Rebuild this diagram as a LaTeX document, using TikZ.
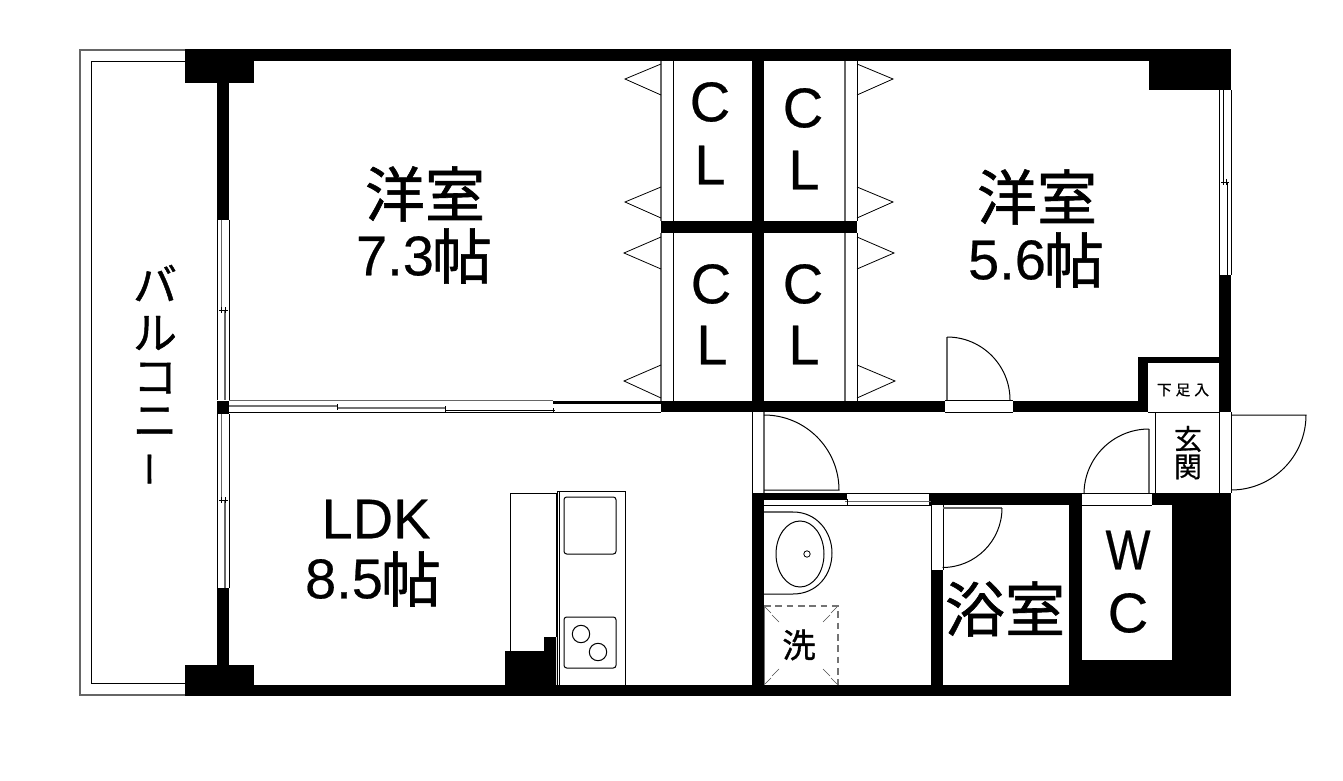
\documentclass[tikz,border=0pt]{standalone}
\usepackage{fontspec}
\setmainfont{Liberation Sans}[FakeBold=0.4]
\newfontfamily\jp{Noto Sans CJK JP}[FakeBold=1]
\newfontfamily\jpb{Noto Sans CJK JP}[FakeBold=0.6]
\newcommand{\fs}[1]{\fontsize{#1}{#1}\selectfont}
\tikzset{
  x=0.75pt,y=-0.75pt,
  wall/.style={fill=black,draw=none},
  thin line/.style={draw=black,line width=0.75pt},
  grey line/.style={draw=black!60,line width=0.9pt},
  fine/.style={draw=black,line width=0.6pt},
  big/.style={inner sep=0pt,font=\fs{42}},
  bigjp/.style={inner sep=0pt,font=\jp\fs{45}},
  kana/.style={inner sep=0pt,font=\jp\fs{33}},
}
\begin{document}
\begin{tikzpicture}
\useasboundingbox (0,0) rectangle (1343,781);
% balcony
\draw[grey line] (185,50) -- (80,50) -- (80,695) -- (185,695);
\draw[thin line] (185,61.5) -- (91.5,61.5) -- (91.5,683) -- (185,683);
% walls
\fill[wall] (185,49) rectangle (1231,61);
\fill[wall] (185,49) rectangle (254,83.5);
\fill[wall] (217,83) rectangle (229,220);
\fill[wall] (217,400.5) rectangle (229,414);
\fill[wall] (217,588) rectangle (229,670);
\fill[wall] (185,665) rectangle (254,696);
\fill[wall] (185,685) rectangle (1231,696);
\fill[wall] (1149,49) rectangle (1231,90);
\fill[wall] (1219,275) rectangle (1231,412);
\fill[wall] (752,49) rectangle (764,412);
\fill[wall] (661,221) rectangle (857,233);
\fill[wall] (661,400.5) rectangle (945,412);
\fill[wall] (1013,400.5) rectangle (1148,412);
\fill[wall] (1138,357) rectangle (1148,412);
\fill[wall] (1138,357) rectangle (1231,363);
\fill[wall] (752,493) rectangle (764,696);
\fill[wall] (752,493) rectangle (847,499.5);
\fill[wall] (929,493) rectangle (1082,505);
\fill[wall] (1152,493) rectangle (1231,505);
\fill[wall] (931,570) rectangle (943,696);
\fill[wall] (1069,493) rectangle (1082,696);
\fill[wall] (1172,505) rectangle (1231,696);
\fill[wall] (1069,660) rectangle (1231,696);
\fill[wall] (505,651) -- (544,651) -- (544,637) -- (556,637) -- (556,685) -- (505,685) -- cycle;
% left windows
\draw[thin line] (217,220) -- (217,400) (229,220) -- (229,400) (217,414) -- (217,588) (229,414) -- (229,588);
\draw[grey line] (221.5,220) -- (221.5,310) (225,310) -- (225,400);
\draw[fine] (219,310) -- (228,310) (221.5,307) -- (221.5,313) (225,307) -- (225,313);
\draw[grey line] (221.5,414) -- (221.5,500) (225,500) -- (225,588);
\draw[fine] (219,500) -- (228,500) (221.5,497) -- (221.5,503) (225,497) -- (225,503);
% sliding door LDK
\draw[grey line] (229,400.7) -- (553,400.7);
\draw[thin line] (229,412.5) -- (661,412.5);
\fill[wall] (553,401) rectangle (661,404);
\draw[draw=black!55,line width=1.5pt] (229,405.5) -- (337,405.5);
\draw[draw=black!55,line width=1.2pt] (337,408) -- (445,408);
\draw[fine] (445,410) -- (555,410);
\draw[fine] (337,404) -- (337,410) (445,406) -- (445,412) (553,408) -- (553,412);
% closet lines
\foreach \ya/\yb in {61/221,233/400.5}{
  \draw[grey line] (661,\ya) -- (661,\yb) (845,\ya) -- (845,\yb);
  \draw[thin line] (673,\ya) -- (673,\yb) (857,\ya) -- (857,\yb);
}
% folding door triangles
\foreach \ya/\yb/\yc/\xa/\xb in {64/79/95/625/893,187/202/218/625/893,237/253/269/624/894,365/381/398/624/895}{
  \draw[fine] (661,\ya) -- (\xa,\yb) -- (661,\yc);
  \draw[fine] (857,\ya) -- (\xb,\yb) -- (857,\yc);
}
% bedroom 5.6 door
\draw[thin line] (945,400.5) -- (1013,400.5) (945,412) -- (1013,412);
\draw[grey line] (947,337) -- (947,400);
\draw[thin line] (947,337) arc[start angle=-90,end angle=0,radius=63];
% right window
\draw[thin line] (1219,90) -- (1219,275) (1231,90) -- (1231,275);
\draw[thin line] (1223,90) -- (1223,182) (1227,182) -- (1227,275);
\draw[fine] (1221,182) -- (1229,182) (1223,179) -- (1223,185) (1226.5,179) -- (1226.5,185);
% entrance
\draw[thin line] (1148,412) -- (1219,412);
\draw[thin line] (1155.5,412) -- (1155.5,493);
\draw[thin line] (1219,412) -- (1219,493) (1231,412) -- (1231,493);
\draw[thin line] (1231,415) -- (1306,415) arc[start angle=0,end angle=90,radius=75];
\draw[thin line] (1082,493) -- (1152,493) (1082,505) -- (1152,505);
\draw[grey line] (1149,429) -- (1149,493);
\draw[thin line] (1149,429) arc[start angle=-90,end angle=-180,radius=65];
% hall door
\draw[thin line] (752,412) -- (752,493);
\draw[grey line] (764,412) -- (764,493);
\draw[thin line] (764,415) arc[start angle=-90,end angle=0,radius=75] -- (764,490);
\draw[thin line] (752,493) -- (929,493);
% washroom sliding
\draw[thin line] (764,505) -- (931,505);
\draw[grey line] (845,501.7) -- (931,501.7);
\draw[fine] (847,499) -- (847,505);
% bath door
\draw[thin line] (931,505) -- (931,570) (943,505) -- (943,570);
\draw[grey line] (943,508) -- (1002,508);
\draw[thin line] (1002,508) arc[start angle=0,end angle=90,radius=59.5];
% wash basin
\draw[grey line] (764,512) -- (793,512);
\draw[thin line] (793,512) .. controls (817,512) and (832,532) .. (832,553) .. controls (832,575) and (817,594) .. (793,594) -- (764,594);
\draw[thin line] (800,554) ellipse[x radius=24,y radius=33];
\draw[fine] (807,554) circle[radius=3.2];
% washing pan
\draw[draw=black!55,line width=0.9pt,dash pattern=on 5pt off 3.5pt] (764,606) -- (838,606) -- (838,685);
\draw[draw=black!55,line width=0.5pt] (764,606) -- (764,685);
\foreach \ax/\ay/\bx/\by in {765/607/771/613, 772/615/779/622, 837/607/831/613, 830/615/823/622, 765/684/771/678, 772/676/779/669, 837/684/831/678, 830/676/823/669}{
  \draw[draw=black!70,line width=0.4pt] (\ax,\ay) -- (\bx,\by);
}
% kitchen
\draw[thin line] (510,651) -- (510,493) -- (556,493) -- (556,637);
\draw[thin line] (557,685) -- (557,491) -- (625,491) -- (625,685);
\draw[thin line] (559.5,491) -- (559.5,685);
\draw[thin line,rounded corners=2pt] (564,497) rectangle (616,554);
\draw[thin line,rounded corners=2pt] (564,617) rectangle (616,668);
\draw[thin line] (581,634) circle[radius=8.7] (598,652) circle[radius=8.7];
% labels
\node[bigjp] (r1) at (425,194) {洋室};
\node[big] (r1b) at (395,256) {7.3};
\node[bigjp] (r1c) at (462,256) {帖};
\node[bigjp] (r2) at (1037,197) {洋室};
\node[big] (r2b) at (1007,260) {5.6};
\node[bigjp] (r2c) at (1074,260) {帖};
\node[big] (ldk) at (376,519) {LDK};
\node[big] (r3b) at (344,579) {8.5};
\node[bigjp] (r3c) at (411,579) {帖};
\node[big] (c1) at (710,102) {C};
\node[big] (l1) at (710,165) {L};
\node[big] (c2) at (803,108) {C};
\node[big] (l2) at (804,170) {L};
\node[big] (c3) at (711,284) {C};
\node[big] (l3) at (712,345) {L};
\node[big] (c4) at (803,284) {C};
\node[big] (l4) at (804,345) {L};
\node[big,xscale=0.85] (w) at (1128,550) {W};
\node[big] (c5) at (1128,613) {C};
\node[bigjp] (bath) at (1005,609) {浴室};
\node[inner sep=0pt,font=\jp\fs{25}] (wash) at (799,645) {洗};
\node[inner sep=0pt,font=\jpb\fs{21}] (g1) at (1188,439) {玄};
\node[inner sep=0pt,font=\jpb\fs{21}] (g2) at (1188,467) {関};
\node[inner sep=0pt,font=\jp\fs{11}] (shoe) at (1183,390) {下\hspace{3pt}足\hspace{3pt}入};
\node[kana] (b1) at (155,283) {バ};
\node[kana] (b2) at (155,333) {ル};
\node[kana] (b3) at (155,378) {コ};
\node[kana] (b4) at (155,422) {ニ};
\node[inner sep=0pt,font=\jp\fs{27},rotate=90] (b5) at (155.5,469) {ー};
\end{tikzpicture}
\end{document}
